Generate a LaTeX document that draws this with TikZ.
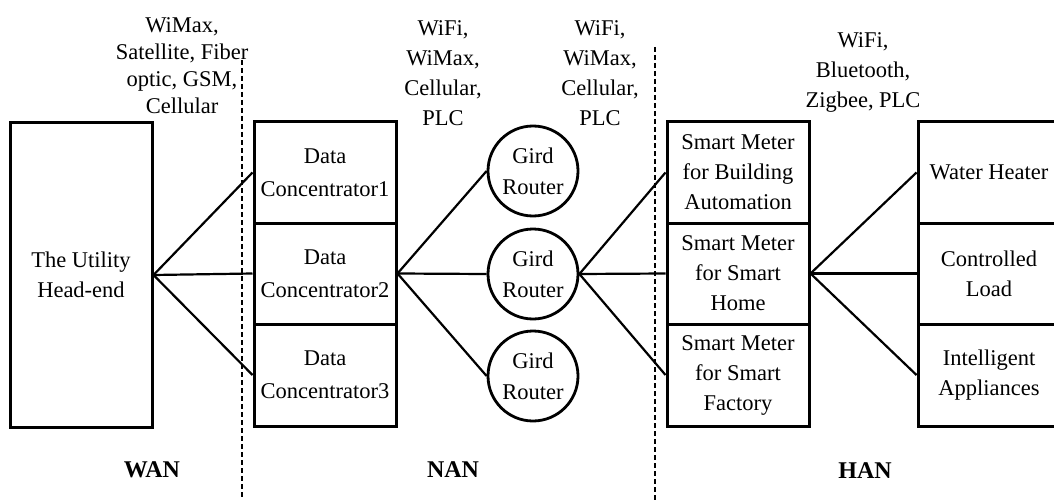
\documentclass[tikz,border=0pt]{standalone}
\usepackage{fontspec}
\setmainfont{Liberation Serif}
\begin{document}
\begin{tikzpicture}[x=1pt,y=-1pt,
  box/.style={draw,line width=3pt,minimum width=142pt,inner sep=0pt,align=center,font=\fontsize{22.5}{30}\selectfont},
  router/.style={draw,circle,line width=2.8pt,minimum size=90pt,inner sep=0pt,align=center,font=\fontsize{22.5}{31}\selectfont},
  link/.style={line width=2.2pt},
  sep/.style={line width=1.8pt,dash pattern=on 5pt off 3pt},
  tech/.style={align=center,inner sep=0pt,font=\fontsize{22.5}{30}\selectfont},
  zone/.style={inner sep=0pt,font=\fontsize{24}{28}\selectfont\bfseries}]
\useasboundingbox (0,0) rectangle (1054,500);
\clip (0,0) rectangle (1054,500);
\fill[white] (0,0) rectangle (1054,500);
% dashed separators
\coordinate (s1a) at (242,60); \coordinate (s1b) at (242,500);
\coordinate (s2a) at (655,47); \coordinate (s2b) at (655,500);
\draw[sep] (s1a) -- (s1b);
\draw[sep] (s2a) -- (s2b);
% utility
\node[box,minimum height=304pt] (ut) at (81,275) {The Utility\\Head-end};
% data concentrators
\node[box,minimum height=101pt,font=\fontsize{22.5}{33}\selectfont] (dc1) at (325,172.5) {Data\\Concentrator1};
\node[box,minimum height=101pt,font=\fontsize{22.5}{33}\selectfont] (dc2) at (325,273.5) {Data\\Concentrator2};
\node[box,minimum height=102pt,font=\fontsize{22.5}{33}\selectfont] (dc3) at (325,375) {Data\\Concentrator3};
% routers
\node[router] (r1) at (533,171) {Gird\\Router};
\node[router] (r2) at (533,274) {Gird\\Router};
\node[router] (r3) at (533,376) {Gird\\Router};
% smart meters
\node[box,minimum height=101pt] (sm1) at (738,172.5) {Smart Meter\\for Building\\Automation};
\node[box,minimum height=101pt] (sm2) at (738,273.5) {Smart Meter\\for Smart\\Home};
\node[box,minimum height=102pt] (sm3) at (738,375) {Smart Meter\\for Smart\\Factory};
% appliances
\node[box,minimum height=101pt] (ap1) at (989,172.5) {Water Heater};
\node[box,minimum height=101pt] (ap2) at (989,273.5) {Controlled\\Load};
\node[box,minimum height=102pt] (ap3) at (989,375) {Intelligent\\Appliances};
% links
\draw[link] (ut.east) -- (dc1.west);
\draw[link] (ut.east) -- (dc2.west);
\draw[link] (ut.east) -- (dc3.west);
\draw[link] (dc2.east) -- (r1.west);
\draw[link] (dc2.east) -- (r2.west);
\draw[link] (dc2.east) -- (r3.west);
\draw[link] (r2.east) -- (sm1.west);
\draw[link] (r2.east) -- (sm2.west);
\draw[link] (r2.east) -- (sm3.west);
\draw[link] (sm2.east) -- (ap1.west);
\draw[link] (sm2.east) -- (ap2.west);
\draw[link] (sm2.east) -- (ap3.west);
% technology labels
\node[tech,font=\fontsize{22.5}{27}\selectfont] (t1) at (182,66) {WiMax,\\Satellite, Fiber\\optic, GSM,\\Cellular};
\node[tech] (t2) at (443,73) {WiFi,\\WiMax,\\Cellular,\\PLC};
\node[tech] (t3) at (600,73) {WiFi,\\WiMax,\\Cellular,\\PLC};
\node[tech] (t4) at (863,72) {WiFi,\\Bluetooth,\\Zigbee, PLC};
% zone labels
\node[zone] (wan) at (152,470) {WAN};
\node[zone] (nan) at (453,470) {NAN};
\node[zone] (han) at (865,471) {HAN};
\end{tikzpicture}
\end{document}
